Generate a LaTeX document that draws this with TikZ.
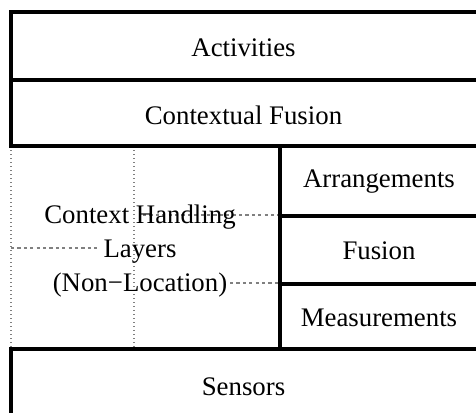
\documentclass[tikz,border=0pt]{standalone}
\usepackage{fontspec}
\setmainfont{Liberation Serif}

\begin{document}
\begin{tikzpicture}[x=0.5pt, y=-0.5pt,
    every node/.style={font=\fontsize{13.4}{17}\selectfont, inner sep=0pt},
    frame/.style={line width=1.9pt},
    griddot/.style={gray, line width=0.6pt, dash pattern=on 0.6pt off 1.4pt},
    griddash/.style={gray, line width=0.6pt, dash pattern=on 1.6pt off 1.6pt}]
  \useasboundingbox (0,0) rectangle (476,412);
  \clip (0,0) rectangle (476,412);

  % guide lines in the left block
  \draw[griddot] (11,146) -- (11,349);
  \draw[griddot] (134,146) -- (134,349);
  \draw[griddash] (143,215) -- (280,215);
  \draw[griddash] (11,248) -- (100,248);
  \draw[griddash] (230,283) -- (280,283);

  % layers
  \draw[frame] (11,12) rectangle (480,80);
  \draw[frame] (11,80) rectangle (480,146);
  \draw[frame] (280,146) rectangle (480,216);
  \draw[frame] (280,216) rectangle (480,284);
  \draw[frame] (280,284) rectangle (480,349);
  \draw[frame] (11,349) rectangle (480,430);

  % labels
  \node (act) at (243.5,48) {Activities};
  \node (cfus) at (243.5,115) {Contextual Fusion};
  \node (arr) at (379,182) {Arrangements};
  \node (fus) at (379,251) {Fusion};
  \node (meas) at (379,318) {Measurements};
  \node (sens) at (243.5,387) {Sensors};
  \node[align=center] (chl) at (140,251)
    {Context Handling\\Layers\\(Non\textminus Location)};
\end{tikzpicture}
\end{document}
